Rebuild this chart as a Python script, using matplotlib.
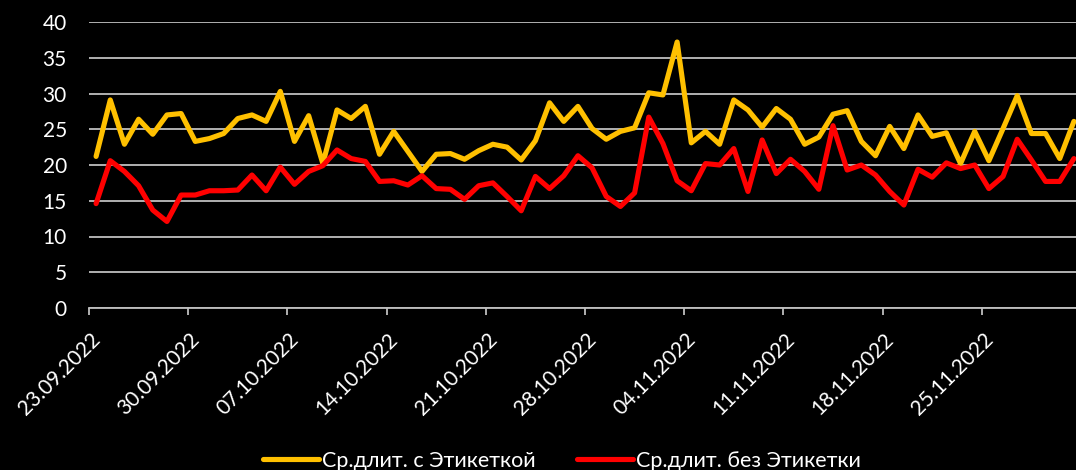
import matplotlib
matplotlib.use("Agg")
import matplotlib.pyplot as plt
import matplotlib.dates as mdates
import matplotlib.transforms as mtransforms
import numpy as np
import datetime as dt

start_date = dt.date(2022, 9, 23)
n_days = 70
dates = [start_date + dt.timedelta(days=i) for i in range(n_days)]

with_label = [21.2, 29.1, 22.9, 26.4, 24.3, 27.0, 27.2, 23.3, 23.7, 24.4,
              26.5, 27.0, 26.1, 30.3, 23.3, 26.9, 20.2, 27.7, 26.5, 28.2,
              21.5, 24.7, 21.9, 19.1, 21.5, 21.6, 20.8, 22.0, 22.9, 22.5,
              20.7, 23.4, 28.7, 26.1, 28.2, 25.1, 23.6, 24.7, 25.2, 30.1,
              29.8, 37.2, 23.1, 24.7, 22.9, 29.1, 27.7, 25.3, 27.9, 26.4,
              22.9, 23.9, 27.1, 27.6, 23.3, 21.3, 25.4, 22.3, 27.0, 24.0,
              24.5, 20.2, 24.7, 20.6, 25.1, 29.7, 24.4, 24.4, 20.9, 26.1]

without_label = [14.6, 20.6, 19.1, 17.1, 13.7, 12.1, 15.8, 15.8, 16.4, 16.4,
                 16.5, 18.6, 16.4, 19.7, 17.3, 19.1, 19.9, 22.1, 20.9, 20.5,
                 17.7, 17.8, 17.2, 18.5, 16.7, 16.6, 15.2, 17.1, 17.5, 15.6,
                 13.6, 18.4, 16.7, 18.5, 21.3, 19.6, 15.6, 14.2, 16.1, 26.7,
                 23.0, 17.8, 16.4, 20.2, 20.0, 22.3, 16.3, 23.5, 18.8, 20.8,
                 19.1, 16.6, 25.5, 19.3, 20.0, 18.6, 16.3, 14.4, 19.4, 18.3,
                 20.3, 19.5, 20.0, 16.7, 18.4, 23.6, 20.7, 17.7, 17.7, 20.9]

series_names = ["Ср.длит. с Этикеткой", "Ср.длит. без Этикетки"]
y_ticks = [0, 5, 10, 15, 20, 25, 30, 35, 40]
tick_dates = [start_date + dt.timedelta(days=7 * k) for k in range(10)]

FONT = ["Lato", "DejaVu Sans"]
plt.rcParams['font.family'] = FONT
FS = 15

W, H = 1076, 470
fig = plt.figure(figsize=(W / 100, H / 100), dpi=100, facecolor="black")
ax_left, ax_bottom_px, ax_top_px = 89, 308, 22
ax = fig.add_axes([ax_left / W, (H - ax_bottom_px) / H, 1 - ax_left / W,
                   (ax_bottom_px - ax_top_px) / H])
ax.set_facecolor("black")

x = np.array([mdates.date2num(d) for d in dates]) + 0.5
x0 = mdates.date2num(start_date)
px_per_day = 99.2 / 7
ax.set_xlim(x0, x0 + (W - ax_left) / px_per_day)
ax.set_ylim(0, 40)

ax.plot(x, with_label, color="#FFC000", lw=3.7, label=series_names[0],
        solid_joinstyle="round", solid_capstyle="round", zorder=3)
ax.plot(x, without_label, color="#FF0000", lw=3.7, label=series_names[1],
        solid_joinstyle="round", solid_capstyle="round", zorder=3)

ax.set_yticks(y_ticks)
ax.yaxis.grid(True, color="#BFBFBF", lw=1.3)
ax.set_axisbelow(True)
for s in ["top", "right", "left"]:
    ax.spines[s].set_visible(False)
ax.spines["bottom"].set_color("#BFBFBF")
ax.spines["bottom"].set_linewidth(1.3)

tick_pos = [mdates.date2num(d) for d in tick_dates]
ax.set_xticks(tick_pos)
ax.tick_params(axis="x", colors="#BFBFBF", length=5, width=1.3, direction="out",
               labelbottom=False)
ax.tick_params(axis="y", length=0, labelcolor="white", labelsize=FS, pad=16)

offset = mtransforms.ScaledTranslation(8 / 100, -28 / 100, fig.dpi_scale_trans)
trans = ax.get_xaxis_transform() + offset
for tp, d in zip(tick_pos, tick_dates):
    ax.text(tp, 0, d.strftime("%d.%m.%Y"), transform=trans, rotation=45,
            rotation_mode="anchor", ha="right", va="center", color="white",
            fontsize=FS, clip_on=False)

leg = fig.legend(loc="center", bbox_to_anchor=(0.5 + 24 / W, 9 / H), ncol=2,
                 frameon=False, fontsize=FS + 0.5, labelcolor="white",
                 handlelength=2.6, handletextpad=0.15, columnspacing=1.9)

fig.savefig("out.png", dpi=100, facecolor="black")
